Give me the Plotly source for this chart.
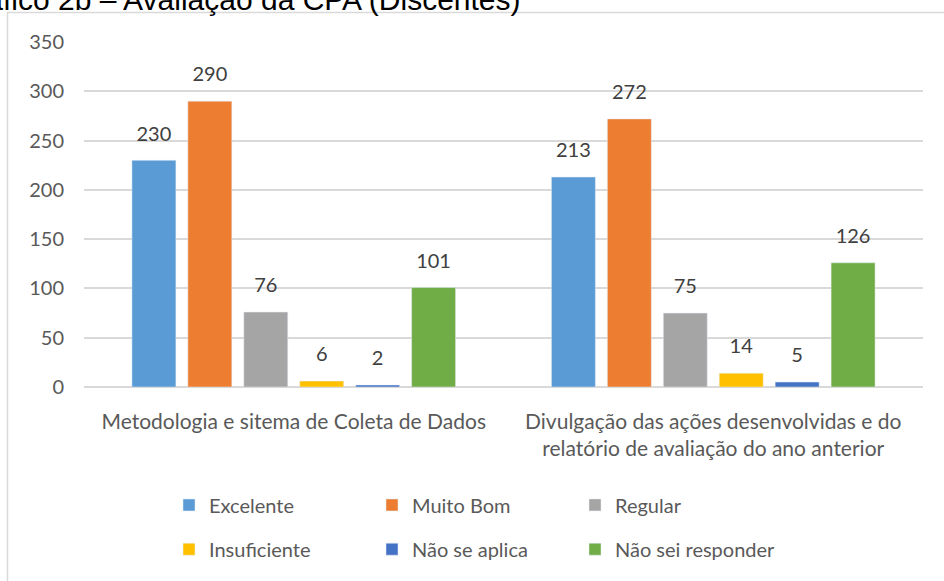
import plotly.graph_objects as go

categories = [
    "Metodologia e sitema de Coleta de Dados",
    "Divulgação das ações desenvolvidas e do<br>relatório de avaliação do ano anterior",
]
series_names = ["Excelente", "Muito Bom", "Regular", "Insuficiente", "Não se aplica", "Não sei responder"]
excelente = [230, 213]
muito_bom = [290, 272]
regular = [76, 75]
insuficiente = [6, 14]
nao_se_aplica = [2, 5]
nao_sei = [101, 126]
values = [excelente, muito_bom, regular, insuficiente, nao_se_aplica, nao_sei]
colors = ["#5B9BD5", "#ED7D31", "#A5A5A5", "#FFC000", "#4472C4", "#70AD47"]
title_text = "Gráfico 2b – Avaliação da CPA (Discentes)"

W, H = 944, 581
L, R, T, B = 84, 21, 42, 188
pw, ph = W - L - R, H - T - B

def px_x(x):
    return (x - L) / pw

def px_y(y):
    return (H - B - y) / ph

fig = go.Figure()
for i, (name, vals, col) in enumerate(zip(series_names, values, colors)):
    fig.add_trace(go.Bar(
        x=categories, y=vals, name=name, marker_color=col,
        offsetgroup=str(i), legend="legend" if i < 3 else "legend2",
    ))
for i, (name, vals) in enumerate(zip(series_names, values)):
    fig.add_trace(go.Scatter(
        x=categories, y=vals, mode="markers+text", text=[str(v) for v in vals],
        textposition="top center", offsetgroup=str(i), showlegend=False,
        marker=dict(size=22, color="rgba(0,0,0,0)"),
        textfont=dict(family="Lato", size=20, color="#404040"),
        cliponaxis=False, hoverinfo="skip",
    ))

legend_common = dict(orientation="h", xanchor="left", yanchor="middle",
                     entrywidth=158, entrywidthmode="pixels",
                     font=dict(size=20, color="#595959"), bgcolor="rgba(0,0,0,0)")

fig.update_layout(
    width=W, height=H,
    margin=dict(l=L, r=R, t=T, b=B),
    paper_bgcolor="white", plot_bgcolor="white",
    barmode="group", bargap=0.2, bargroupgap=0.214,
    scattermode="group", scattergap=0.2,
    font=dict(family="Lato", size=20, color="#595959"),
    showlegend=True,
    legend=dict(x=px_x(169), y=px_y(513), **legend_common),
    legend2=dict(x=px_x(169), y=px_y(558), **legend_common),
    xaxis=dict(type="category", showgrid=False, showline=False, ticks="",
               tickfont=dict(size=21, color="#595959"), ticklabelstandoff=20),
    yaxis=dict(range=[0, 350], dtick=50, showgrid=True, gridcolor="#D9D9D9", gridwidth=1.5,
               zeroline=True, zerolinecolor="#D9D9D9", zerolinewidth=1.5, showline=False,
               tickfont=dict(size=20, color="#595959"), ticks="", ticklabelstandoff=19),
    shapes=[dict(type="rect", xref="paper", yref="paper",
                 x0=px_x(7.5), x1=px_x(960), y0=px_y(600), y1=px_y(12),
                 line=dict(color="#D9D9D9", width=1.5), fillcolor="rgba(0,0,0,0)", layer="below")],
    annotations=[dict(text=title_text, xref="paper", yref="paper", x=px_x(523), xanchor="right",
                      y=px_y(9), yanchor="bottom", yshift=-8, showarrow=False,
                      font=dict(family="Liberation Sans", size=30, color="#000000"))],
)

fig.write_html("out.html", config={"displayModeBar": False},
               post_script="document.body.style.margin='0';document.body.style.overflow='hidden';")
